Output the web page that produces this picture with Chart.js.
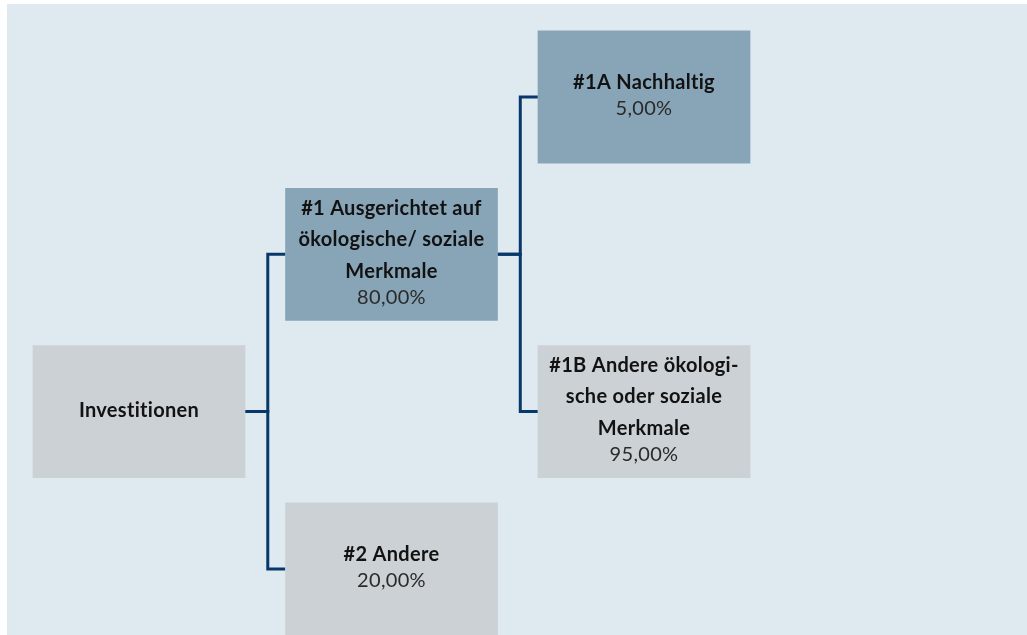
<!DOCTYPE html>
<html>
<head>
<meta charset="utf-8">
<script src="https://cdn.jsdelivr.net/npm/chart.js@4/dist/chart.umd.min.js"></script>
<style>
  html, body { margin: 0; background: #fff; }
  #bg { position: absolute; left: 7px; top: 4px; width: 1020px; height: 631px; background: #dfe9f0; }
  #wrap { position: absolute; left: 0; top: 0; width: 1027px; height: 635px; }
</style>
</head>
<body>
<div id="bg"></div>
<div id="wrap"><canvas id="tree"></canvas></div>
<script>
// tree nodes
const nodeLines = [
  ['Investitionen'],
  ['#1 Ausgerichtet auf', 'ökologische/ soziale', 'Merkmale'],
  ['#2 Andere'],
  ['#1A Nachhaltig'],
  ['#1B Andere ökologi-', 'sche oder soziale', 'Merkmale'],
];
const nodeValues = ['', '80,00%', '20,00%', '5,00%', '95,00%'];
const nodeLevel = [0, 1, 1, 2, 2];
const nodeRow = [2, 1, 3, 0, 2];
const nodeParent = [-1, 0, 0, 1, 1];
const nodeHighlight = [false, true, false, true, false];

const BOX_COLOR = '#ccd1d5';
const BOX_HIGHLIGHT = '#87a5b7';
const LINE_COLOR = '#08386a';
const HALF_W = 0.42;   // half box width, in level units
const HALF_H = 0.42;   // half box height, in row units
const ELBOW = 0.51;    // where the connector turns

const boxData = nodeLevel.map((lv, i) => ({ x: lv, y: [nodeRow[i] - HALF_H, nodeRow[i] + HALF_H] }));

const connectors = nodeParent
  .map((p, i) => {
    if (p < 0) return null;
    return {
      type: 'line',
      data: [
        { x: nodeLevel[p] + HALF_W, y: nodeRow[p] },
        { x: nodeLevel[p] + ELBOW, y: nodeRow[p] },
        { x: nodeLevel[p] + ELBOW, y: nodeRow[i] },
        { x: nodeLevel[i] - HALF_W, y: nodeRow[i] },
      ],
      borderColor: LINE_COLOR,
      borderWidth: 3,
      borderJoinStyle: 'miter',
      pointRadius: 0,
      tension: 0,
      fill: false,
      order: 2,
    };
  })
  .filter(Boolean);

const nodeText = {
  id: 'nodeText',
  afterDatasetsDraw(chart) {
    const { ctx, scales } = chart;
    ctx.save();
    ctx.textAlign = 'center';
    ctx.textBaseline = 'middle';
    ctx.letterSpacing = '0.3px';
    nodeLines.forEach((lines, i) => {
      const cx = scales.x.getPixelForValue(nodeLevel[i]);
      const cy = scales.y.getPixelForValue(nodeRow[i]);
      const hasVal = nodeValues[i] !== '';
      const span = (lines.length - 1) * 31.5 + (hasVal ? 26.5 : 0);
      const y = cy - span / 2 - 1.5;
      ctx.fillStyle = '#121212';
      ctx.font = 'bold 20px Lato';
      lines.forEach((t, k) => {
        ctx.fillText(t, cx, y + k * 31.5);
      });
      if (hasVal) {
        ctx.fillStyle = '#2a2a2a';
        ctx.font = '20px Lato';
        ctx.fillText(nodeValues[i], cx, y + (lines.length - 1) * 31.5 + 26.5);
      }
    });
    ctx.restore();
  },
};

new Chart(document.getElementById('tree'), {
  type: 'bar',
  data: {
    datasets: [
      {
        type: 'bar',
        data: boxData,
        backgroundColor: nodeHighlight.map(h => (h ? BOX_HIGHLIGHT : BOX_COLOR)),
        borderWidth: 0,
        barThickness: 212,
        grouped: false,
        order: 1,
      },
      ...connectors,
    ],
  },
  options: {
    responsive: true,
    maintainAspectRatio: false,
    animation: false,
    layout: { padding: 0 },
    plugins: { legend: { display: false }, tooltip: { enabled: false } },
    scales: {
      x: { type: 'linear', display: false, offset: false, min: -139 / 252.5, max: (1027 - 139) / 252.5 },
      y: { type: 'linear', display: false, reverse: true, min: -97 / 157.3, max: (635 - 97) / 157.3 },
    },
  },
  plugins: [nodeText],
});
</script>
</body>
</html>
